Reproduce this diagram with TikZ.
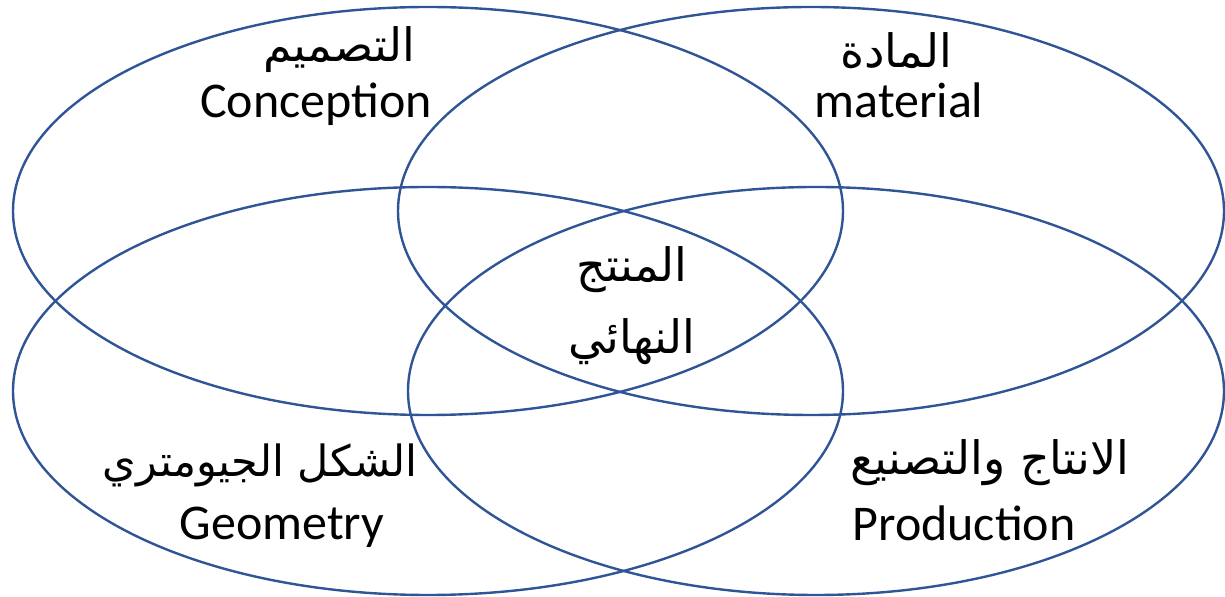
\documentclass[tikz,border=0pt]{standalone}
\usepackage{fontspec}
\setmainfont{Carlito}
\newfontfamily\arabicfont[Script=Arabic]{DejaVu Sans}
\TeXXeTstate=1
\definecolor{vennblue}{RGB}{47,85,151}
\tikzset{
  venn/.style={draw=vennblue, line width=1.2pt},
  entxt/.style={anchor=base, inner sep=0pt, font=\fontsize{25}{30}\selectfont},
  artxt/.style={anchor=base, inner sep=0pt, font=\arabicfont\fontsize{23}{28}\selectfont}
}
\begin{document}
\begin{tikzpicture}[x=0.5pt, y=-0.5pt]
    \useasboundingbox (0, 0) rectangle (1225, 597);

    % The four ellipses (top left, top right, bottom left, bottom right)
    \draw[venn] (428, 211) ellipse [x radius=415, y radius=204];
    \draw[venn] (811, 211) ellipse [x radius=413, y radius=204];
    \draw[venn] (428, 391) ellipse [x radius=415, y radius=204];
    \draw[venn] (816, 391) ellipse [x radius=408, y radius=204];

    % Top row labels
    \node[artxt] (conceptAr) at (339, 62) {\beginR التصميم\endR};
    \node[entxt] (conceptEn) at (316, 118) {Conception};
    \node[artxt] (materialAr) at (896, 68) {\beginR المادة\endR};
    \node[entxt] (materialEn) at (899, 118) {material};

    % Centre label
    \node[artxt] (productAr) at (632, 282) {\beginR المنتج\endR};
    \node[artxt] (finalAr) at (632, 354) {\beginR النهائي\endR};

    % Bottom row labels
    \node[artxt, font=\arabicfont\fontsize{21.5}{26}\selectfont] (geometryAr) at (260, 477) {\beginR الشكل الجيومتري\endR};
    \node[entxt] (geometryEn) at (282, 540) {Geometry};
    \node[artxt] (productionAr) at (990, 475) {\beginR الانتاج والتصنيع\endR};
    \node[entxt] (productionEn) at (964, 541) {Production};
  \end{tikzpicture}
\end{document}
